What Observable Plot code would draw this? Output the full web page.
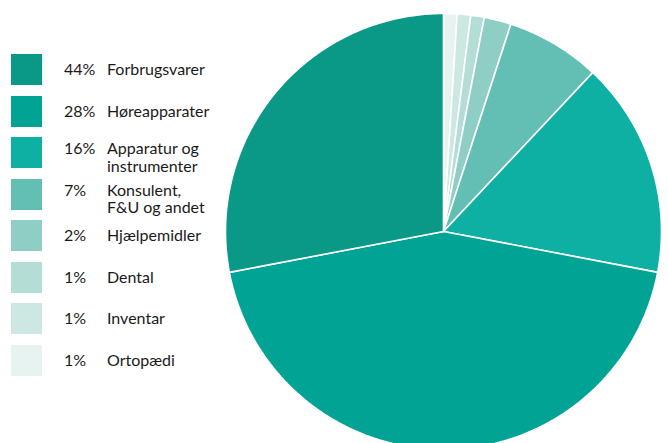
<!DOCTYPE html>
<html>
<head>
<meta charset="utf-8">
<script src="https://cdn.jsdelivr.net/npm/d3@7"></script>
<script src="https://cdn.jsdelivr.net/npm/@observablehq/plot@0.6"></script>
<style>
  html, body { margin: 0; padding: 0; background: #fff; }
  #wrap { position: relative; width: 668px; height: 443px; overflow: hidden; font-family: Lato, "Noto Sans", sans-serif; color: #1a1a1a; }
  #chart { position: absolute; left: 0; top: 0; }
  .row { position: absolute; left: 0; height: 31px; width: 230px; }
  .sw { position: absolute; left: 11px; top: 0; width: 31px; height: 31px; }
  .txt { position: absolute; left: 64px; font-size: 16px; line-height: 17.5px; white-space: pre; }
  .pct { position: absolute; left: 0; }
  .lab { position: absolute; left: 43px; }
</style>
</head>
<body>
<div id="wrap"><div id="chart"></div><div id="legend"></div></div>
<script>
// Legend (category order, share in %, colour)
const categories = ["Forbrugsvarer", "Høreapparater", "Apparatur og\ninstrumenter", "Konsulent,\nF&U og andet", "Hjælpemidler", "Dental", "Inventar", "Ortopædi"];
const shares = [44, 28, 16, 7, 2, 1, 1, 1];
const colors = ["#0a9987", "#01a394", "#0db0a2", "#63bfb3", "#8fcec4", "#b3ddd5", "#cde8e2", "#e6f3f0"];

// Pie slices as drawn, clockwise from 12 o'clock (index into categories, value in %)
const pieCategory = [7, 6, 5, 4, 3, 2, 1, 0];
const pieValues = [1, 1, 1, 2, 7, 16, 44, 28];

// --- build slice outlines in unit-circle coordinates
const total = d3.sum(pieValues);
const rows = [];
let acc = 0;
pieValues.forEach((v, i) => {
  const a0 = acc / total * 2 * Math.PI;
  acc += v;
  const a1 = acc / total * 2 * Math.PI;
  const n = Math.max(2, Math.ceil((a1 - a0) / (Math.PI / 360)));
  const id = "s" + i;
  const color = colors[pieCategory[i]];
  rows.push({id, color, x: 0, y: 0});
  for (let k = 0; k <= n; k++) {
    const a = a0 + (a1 - a0) * k / n;
    rows.push({id, color, x: Math.sin(a), y: Math.cos(a)});
  }
  rows.push({id, color, x: 0, y: 0});
});

// pie placement: centre and radius in px of the 668x443 frame
const W = 668, H = 443, cx = 443, cy = 231, R = 218;

const chart = Plot.plot({
  width: W,
  height: H,
  margin: 0,
  x: {domain: [-cx / R, (W - cx) / R], range: [0, W], axis: null},
  y: {domain: [-(H - cy) / R, cy / R], range: [H, 0], axis: null},
  marks: [
    Plot.line(rows, {x: "x", y: "y", z: "id", fill: "color", stroke: "white", strokeWidth: 1.6, strokeLinejoin: "miter", curve: "linear"})
  ]
});
document.getElementById("chart").appendChild(chart);

// --- legend
const legend = document.getElementById("legend");
categories.forEach((c, i) => {
  const row = document.createElement("div");
  row.className = "row";
  row.style.top = (54 + i * 41.57) + "px";
  const sw = document.createElement("div");
  sw.className = "sw";
  sw.style.background = colors[i];
  row.appendChild(sw);
  const multi = c.includes("\n");
  const txt = document.createElement("div");
  txt.className = "txt";
  txt.style.top = multi ? "2px" : "6px";
  const pct = document.createElement("span");
  pct.className = "pct";
  pct.textContent = shares[i] + "%";
  const lab = document.createElement("span");
  lab.className = "lab";
  lab.textContent = c;
  txt.appendChild(pct);
  txt.appendChild(lab);
  row.appendChild(txt);
  legend.appendChild(row);
});
</script>
</body>
</html>
